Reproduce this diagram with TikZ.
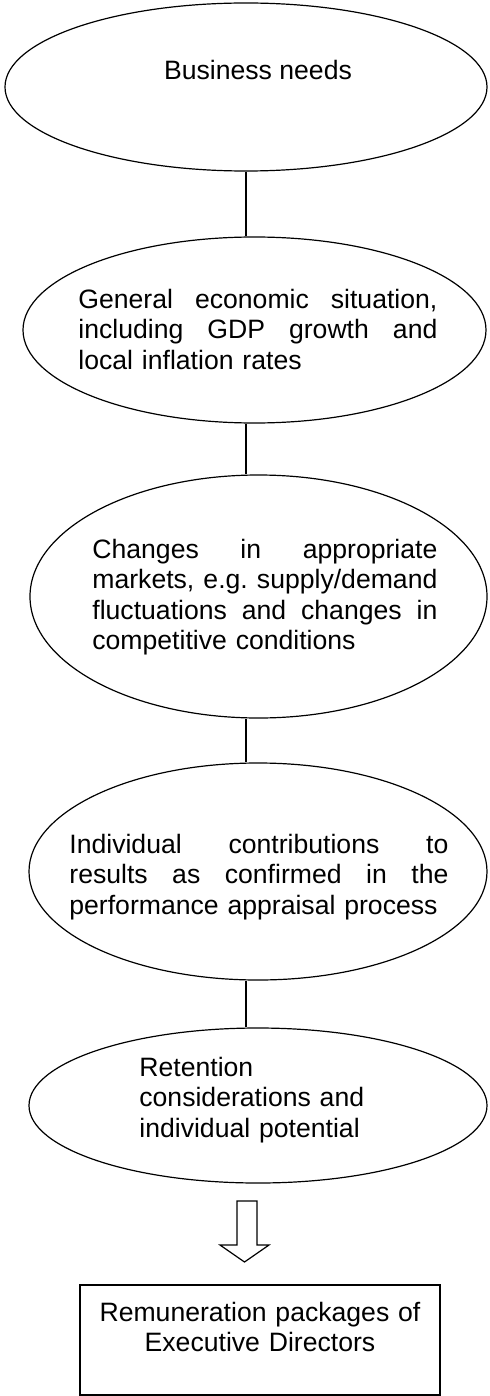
\documentclass[tikz,border=0pt]{standalone}
\usepackage{fontspec}
\setmainfont{Liberation Sans}
\usetikzlibrary{shapes.geometric}
\tikzset{
  oval/.style={ellipse, draw=black, line width=0.6pt, inner sep=0pt},
  txt/.style={inner sep=0pt, font=\fontsize{13.3pt}{15.25pt}\selectfont, text=black},
  link/.style={draw=black, line width=0.6pt},
  boxed/.style={rectangle, draw=black, line width=0.6pt, inner sep=0pt},
  bigarrow/.style={draw=black, fill=white, line width=0.6pt, line join=miter}
}
\newcommand{\jl}[2]{\makebox[#1]{#2}}
\begin{document}
\begin{tikzpicture}[x=0.5pt,y=-0.5pt]
\useasboundingbox (0,0) rectangle (490,1396);
% ellipses
\node[oval, minimum width=241pt, minimum height=84pt] (e1) at (246,87) {};
\node[oval, minimum width=231.5pt, minimum height=93pt] (e2) at (254.5,330) {};
\node[oval, minimum width=228.5pt, minimum height=121.5pt] (e3) at (258.5,596.5) {};
\node[oval, minimum width=229pt, minimum height=108.5pt] (e4) at (258,871.5) {};
\node[oval, minimum width=229pt, minimum height=77.5pt] (e5) at (258,1105.5) {};
\node[boxed, minimum width=180pt, minimum height=55pt] (r) at (260,1340) {};
% texts
\node[txt, anchor=base] (t1) at (258,80) {Business needs};
\node[txt, anchor=base west, text width=179.5pt, align=left] (t2) at (78,308)
  {\jl{179.5pt}{General\hfill economic\hfill situation,}\\
   \jl{179.5pt}{including\hfill GDP\hfill growth\hfill and}\\
   local inflation rates};
\node[txt, anchor=base west, text width=172.5pt, align=left] (t3) at (92,558)
  {\jl{172.5pt}{Changes\hfill in\hfill appropriate}\\
   \jl{172.5pt}{markets,\hfill e.g.\hfill supply/demand}\\
   \jl{172.5pt}{fluctuations\hfill and\hfill changes\hfill in}\\
   competitive conditions};
\node[txt, anchor=base west, text width=189.5pt, align=left] (t4) at (69,853)
  {\jl{189.5pt}{Individual\hfill contributions\hfill to}\\
   \jl{189.5pt}{results\hfill as\hfill confirmed\hfill in\hfill the}\\
   performance appraisal process};
\node[txt, anchor=base west, text width=120pt, align=left] (t5) at (139,1076)
  {Retention\\considerations and\\individual potential};
\node[txt, anchor=base, text width=180pt, align=center] (t6) at (260,1321)
  {Remuneration packages of\\Executive Directors};
% connectors
\draw[link] (e1.south) -- (e1.south |- e2.north);
\draw[link] (e1.south |- e2.south) -- (e1.south |- e3.north);
\draw[link] (e1.south |- e3.south) -- (e1.south |- e4.north);
\draw[link] (e1.south |- e4.south) -- (e1.south |- e5.north);
% block arrow
\coordinate (tip) at (244.5,1262);
\draw[bigarrow] (237,1201) -- (257,1201) -- (257,1245) -- (269,1245) -- (tip) -- (220,1245) -- (237,1245) -- cycle;
\end{tikzpicture}
\end{document}
